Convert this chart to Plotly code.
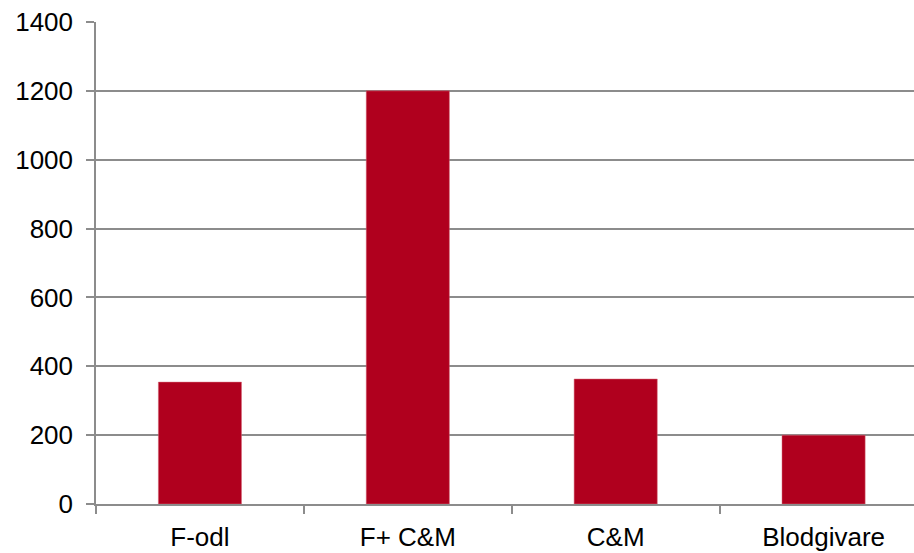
import plotly.graph_objects as go

categories = ["F-odl", "F+ C&M", "C&M", "Blodgivare"]
values = [354, 1200, 363, 200]
y_ticks = [0, 200, 400, 600, 800, 1000, 1200, 1400]

bar_color = "#B0001E"
grid_color = "#8C8C8C"
font_family = "Arial, Liberation Sans, sans-serif"

fig = go.Figure(go.Bar(
    x=categories, y=values,
    marker=dict(color=bar_color, line=dict(color="#D46A7A", width=0.5)),
))

fig.update_layout(
    width=914, height=553,
    margin=dict(l=96, r=0, t=22, b=49),
    paper_bgcolor="white", plot_bgcolor="white",
    bargap=0.6,
    showlegend=False,
    font=dict(family=font_family, size=26, color="black"),
)

fig.update_xaxes(
    range=[-0.5, 3.435],
    showgrid=False,
    showline=True, linecolor=grid_color, linewidth=1.5,
    ticks="outside", tickson="boundaries", ticklen=8, tickcolor=grid_color, tickwidth=1.5,
    ticklabelstandoff=9,
    tickfont=dict(family=font_family, size=26, color="black"),
)

fig.update_yaxes(
    range=[0, 1400],
    tickvals=y_ticks,
    showgrid=True, gridcolor=grid_color, gridwidth=1.5,
    zeroline=False,
    showline=True, linecolor=grid_color, linewidth=1.5,
    ticks="outside", ticklen=8, tickcolor=grid_color, tickwidth=1.5,
    ticklabelstandoff=8,
    tickfont=dict(family=font_family, size=26, color="black"),
)

fig.write_html(
    "out.html",
    config={"displayModeBar": False},
    post_script="document.body.style.margin='0';",
)
